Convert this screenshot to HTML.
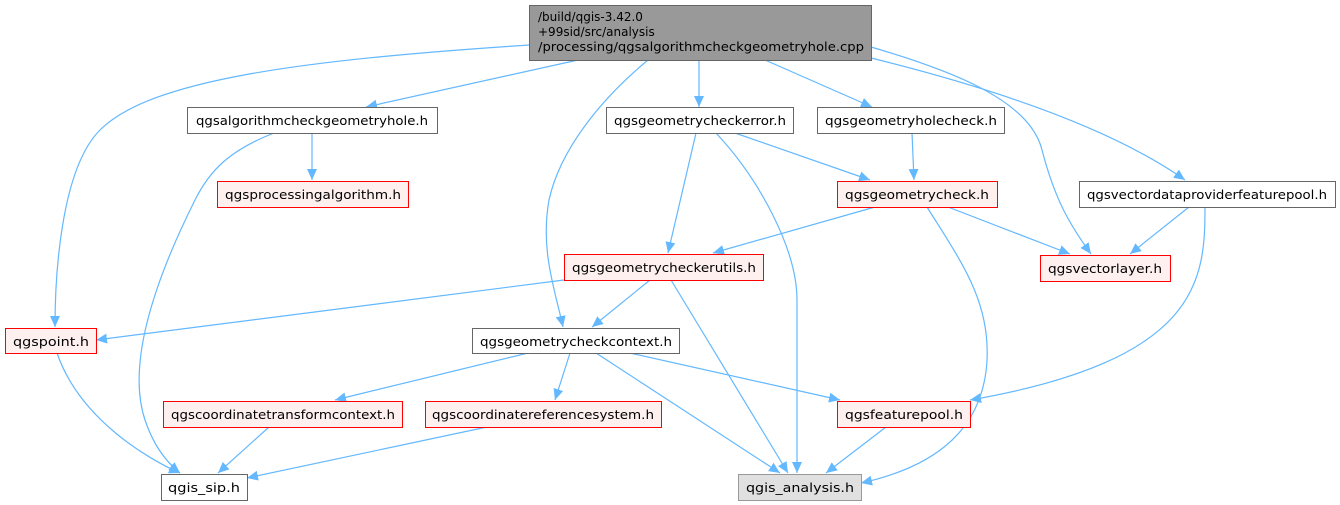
<!DOCTYPE html>
<html><head><meta charset="utf-8"><style>
html,body{margin:0;padding:0;background:#fff;width:1340px;height:505px;overflow:hidden}
text{font-family:"DejaVu Sans","Liberation Sans",sans-serif;font-size:12px;fill:#000}
</style></head><body>
<svg width="1340" height="505" viewBox="0 0 1340 505" xmlns="http://www.w3.org/2000/svg">
<defs><marker id="a" markerUnits="userSpaceOnUse" markerWidth="12" markerHeight="10" refX="11" refY="5" orient="auto"><path d="M0,0 L11,5 L0,10 Z" fill="#63b8ff"/></marker></defs>
<g fill="none" stroke="#63b8ff" stroke-width="1.2" marker-end="url(#a)">
<path d="M529,45 C300,60 150,80 100,130 C60,170 55,280 55,327"/>
<path d="M578,60 L366,107"/>
<path d="M648,60 C600,100 560,150 549,200 C540,250 555,290 563,327"/>
<path d="M699,60 L699,107"/>
<path d="M765,60 L872,107"/>
<path d="M871,47 C950,70 1030,100 1042,150 C1055,200 1070,225 1091,254"/>
<path d="M871,58 C960,80 1100,120 1185,180"/>
<path d="M274,133 C230,150 210,170 195,200 C160,270 125,360 145,420 C155,450 170,465 180,473"/>
<path d="M312,133 L312,180"/>
<path d="M696,133 L668,253"/>
<path d="M716,133 C760,180 797,250 797,300 L797,473"/>
<path d="M735,133 L870,180"/>
<path d="M912,133 L914,180"/>
<path d="M875,207 L713,253"/>
<path d="M948,207 L1070,254"/>
<path d="M927,207 C960,260 990,300 987,360 C983,440 920,470 861,483"/>
<path d="M1189,207 L1130,254"/>
<path d="M1205,207 C1205,280 1200,360 970,400"/>
<path d="M564,280 L96,340"/>
<path d="M650,280 L592,327"/>
<path d="M671,280 L788,473"/>
<path d="M528,353 L335,400"/>
<path d="M570,353 L555,400"/>
<path d="M596,353 L780,473"/>
<path d="M630,353 L840,400"/>
<path d="M57,353 C80,420 150,460 180,473"/>
<path d="M269,427 L218,473"/>
<path d="M487,427 L247,478"/>
<path d="M886,427 L826,473"/>
</g>
<g stroke-width="1">
<rect x="529.5" y="5.5" width="342" height="55" fill="#999" stroke="#666"/>
<rect x="187.5" y="107.5" width="250" height="26" fill="#fff" stroke="#666"/>
<rect x="217.5" y="181.5" width="191" height="26" fill="#fff0f0" stroke="#f00"/>
<rect x="606.5" y="107.5" width="187" height="26" fill="#fff" stroke="#666"/>
<rect x="817.5" y="107.5" width="187" height="26" fill="#fff" stroke="#666"/>
<rect x="837.5" y="181.5" width="160" height="26" fill="#fff0f0" stroke="#f00"/>
<rect x="1079.5" y="181.5" width="256" height="26" fill="#fff" stroke="#666"/>
<rect x="1040.5" y="255.5" width="130" height="26" fill="#fff0f0" stroke="#f00"/>
<rect x="564.5" y="254.5" width="199" height="26" fill="#fff0f0" stroke="#f00"/>
<rect x="5.5" y="328.5" width="91" height="25" fill="#fff0f0" stroke="#f00"/>
<rect x="472.5" y="328.5" width="207" height="25" fill="#fff" stroke="#666"/>
<rect x="163.5" y="401.5" width="239" height="26" fill="#fff0f0" stroke="#f00"/>
<rect x="425.5" y="401.5" width="236" height="26" fill="#fff0f0" stroke="#f00"/>
<rect x="837.5" y="401.5" width="133" height="26" fill="#fff0f0" stroke="#f00"/>
<rect x="161.5" y="474.5" width="86" height="26" fill="#fff" stroke="#666"/>
<rect x="738.5" y="474.5" width="123" height="26" fill="#e0e0e0" stroke="#999"/>
</g>
<text x="538" y="21">/build/qgis-3.42.0</text>
<text x="538" y="36">+99sid/src/analysis</text>
<text x="538" y="51" textLength="326" lengthAdjust="spacingAndGlyphs">/processing/qgsalgorithmcheckgeometryhole.cpp</text>
<g text-anchor="middle">
<text x="312" y="125" textLength="232" lengthAdjust="spacingAndGlyphs">qgsalgorithmcheckgeometryhole.h</text>
<text x="313" y="199" textLength="176" lengthAdjust="spacingAndGlyphs">qgsprocessingalgorithm.h</text>
<text x="700" y="125" textLength="172" lengthAdjust="spacingAndGlyphs">qgsgeometrycheckerror.h</text>
<text x="911" y="125" textLength="172" lengthAdjust="spacingAndGlyphs">qgsgeometryholecheck.h</text>
<text x="917" y="199" textLength="144" lengthAdjust="spacingAndGlyphs">qgsgeometrycheck.h</text>
<text x="1207" y="199" textLength="240" lengthAdjust="spacingAndGlyphs">qgsvectordataproviderfeaturepool.h</text>
<text x="1105" y="273" textLength="114" lengthAdjust="spacingAndGlyphs">qgsvectorlayer.h</text>
<text x="664" y="272" textLength="184" lengthAdjust="spacingAndGlyphs">qgsgeometrycheckerutils.h</text>
<text x="51" y="346" textLength="76" lengthAdjust="spacingAndGlyphs">qgspoint.h</text>
<text x="576" y="346" textLength="192" lengthAdjust="spacingAndGlyphs">qgsgeometrycheckcontext.h</text>
<text x="283" y="419" textLength="224" lengthAdjust="spacingAndGlyphs">qgscoordinatetransformcontext.h</text>
<text x="543" y="419" textLength="222" lengthAdjust="spacingAndGlyphs">qgscoordinatereferencesystem.h</text>
<text x="904" y="419" textLength="118" lengthAdjust="spacingAndGlyphs">qgsfeaturepool.h</text>
<text x="204" y="492" textLength="72" lengthAdjust="spacingAndGlyphs">qgis_sip.h</text>
<text x="800" y="492" textLength="108" lengthAdjust="spacingAndGlyphs">qgis_analysis.h</text>
</g>
</svg>
</body></html>
